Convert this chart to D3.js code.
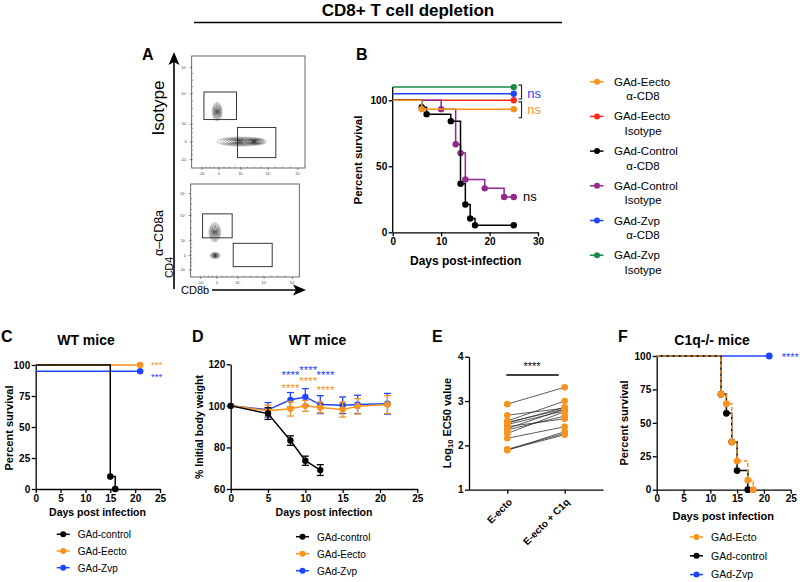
<!DOCTYPE html>
<html><head><meta charset="utf-8">
<script src="https://cdn.jsdelivr.net/npm/d3@7"></script>
<style>
body{margin:0;background:#fff;}
svg{font-family:"Liberation Sans",Arial,sans-serif;}
.axis path,.axis line{stroke:#000;stroke-width:1.3;}
.axis text{font-weight:bold;font-size:10px;fill:#000;}
</style></head>
<body>
<svg id="c" width="800" height="582"></svg>
<script>
// ---------------- DATA ----------------
const title = "CD8+ T cell depletion";
// Panel A (flow cytometry, log-units: -1=-10^3, 0=0, 1=10^3, 2=10^4, 3=10^5)
const flowTicks = [-1, 0, 1, 2, 3];
const flowTickLabels = ["-10³", "0", "10³", "10⁴", "10⁵"];
const flowRowLabels = ["Isotype", "α–CD8a"];
// populations: [xCenter, yCenter, xSpread, ySpread]
const flowPopsIso = [[-0.08, 1.4, 0.24, 0.3], [1.0, 0.0, 0.85, 0.25], [1.5, 0.0, 0.45, 0.2]];
const flowPopsDep = [[-0.1, 1.32, 0.3, 0.38], [-0.08, -0.03, 0.25, 0.2]];
// gates: [x0, x1, y0, y1]
const gatesIso = [[-0.86, 0.82, 1.14, 2.05], [0.87, 2.27, -0.92, 0.8]];
const gatesDep = [[-0.85, 0.75, 1.1, 2.05], [0.8, 2.3, -0.8, 0.8]];

// Panel B survival
const bSeries = ["GAd-Zvp Isotype", "GAd-Zvp α-CD8", "GAd-Eecto Isotype", "GAd-Control Isotype", "GAd-Control α-CD8", "GAd-Eecto α-CD8"];
const bColors = ["#1a8a47", "#1f45ff", "#ff2a1a", "#93278f", "#000000", "#f7931e"];
const bTimes = [[0, 25], [0, 25], [0, 25], [0, 10, 13, 14, 15, 19, 23, 25], [0, 6, 7, 12, 14, 15, 16, 17, 25], [0, 6, 25]];
const bSurv = [[110, 110], [105, 105], [100, 100], [100, 93.3, 66.7, 60, 40, 33.3, 26.7, 26.7], [100, 94.7, 89.5, 84.2, 36.8, 21.1, 10.5, 5.3, 5.3], [100, 93.3, 93.3]];
const bLegendLine1 = ["GAd-Eecto", "GAd-Eecto", "GAd-Control", "GAd-Control", "GAd-Zvp", "GAd-Zvp"];
const bLegendLine2 = ["α-CD8", "Isotype", "α-CD8", "Isotype", "α-CD8", "Isotype"];
const bLegendColors = ["#f7931e", "#ff2a1a", "#000000", "#93278f", "#1f45ff", "#1a8a47"];

// Panel C survival WT
const cSeries = ["GAd-Zvp", "GAd-Eecto", "GAd-control"];
const cColors = ["#1f45ff", "#f7931e", "#000000"];
const cTimes = [[0, 21], [0, 21], [0, 15, 16]];
const cSurv = [[95, 95], [100, 100], [100, 10, 0]];
const cLegend = ["GAd-control", "GAd-Eecto", "GAd-Zvp"];
const cLegendColors = ["#000000", "#f7931e", "#1f45ff"];

// Panel D body weight
const dDays = [0, 5, 8, 10, 12, 15, 17, 21];
const dControl = [100, 96.3, 83.3, 73.6, 69.1];
const dControlErr = [0, 2.8, 2.3, 2.2, 2.6];
const dEecto = [100, 97.7, 98.6, 100, 99.2, 98.2, 99.8, 100.6];
const dEectoErr = [0, 2.6, 3.5, 2.6, 2.6, 3.6, 3.7, 4.3];
const dZvp = [100, 98.1, 102.9, 104.3, 100.6, 100.3, 100.7, 101];
const dZvpErr = [0, 3.5, 3.5, 4.0, 4.3, 4.0, 4.4, 5.0];
const dStarsBlue = [[8.0, 116], [10.4, 118.5], [12.7, 116]];
const dStarsOrange = [[8.0, 110], [10.4, 113], [12.7, 109]];
const dLegend = ["GAd-control", "GAd-Eecto", "GAd-Zvp"];

// Panel E paired EC50
const eCategories = ["E-ecto", "E-ecto + C1q"];
const eBefore = [2.93, 2.68, 2.55, 2.52, 2.50, 2.47, 2.42, 2.38, 2.35, 2.27, 2.16, 1.91, 1.90, 1.89];
const eAfter = [3.31, 2.84, 3.00, 2.82, 2.86, 2.78, 2.60, 2.82, 2.66, 2.76, 2.42, 2.27, 2.24, 2.31];

// Panel F survival C1q-/-
const fSeries = ["GAd-Zvp", "GAd-control", "GAd-Ecto"];
const fColors = ["#1f45ff", "#000000", "#f7931e"];
const fTimes = [[0, 21], [0, 12, 13, 14, 15, 17], [0, 12, 13, 14, 15, 17, 18]];
const fSurv = [[100, 100], [100, 71.4, 57.1, 35.7, 14.3, 0], [100, 71.4, 64.3, 35.7, 21.4, 7.1, 0]];
const fLegend = ["GAd-Ecto", "GAd-control", "GAd-Zvp"];
const fLegendColors = ["#f7931e", "#000000", "#1f45ff"];

// ---------------- DRAW ----------------
const svg = d3.select("#c");
const F = '"Liberation Sans",Arial,sans-serif';

function txt(x, y, s, size, opts = {}) {
  const t = svg.append("text").attr("x", x).attr("y", y).text(s)
    .attr("font-size", size).attr("font-weight", opts.bold ? "bold" : "normal")
    .attr("fill", opts.fill || "#000").attr("text-anchor", opts.anchor || "start");
  if (opts.rotate) t.attr("transform", `rotate(-90,${x},${y})`);
  return t;
}

// title
txt(408, 15.5, title, 17, {bold: true, anchor: "middle"});
svg.append("line").attr("x1", 194).attr("x2", 562).attr("y1", 22.5).attr("y2", 22.5).attr("stroke", "#000").attr("stroke-width", 1.3);

// panel letters
[["A", 142, 60], ["B", 356, 60], ["C", 1, 342], ["D", 192, 342], ["E", 432, 342], ["F", 618, 342]]
  .forEach(d => txt(d[1], d[2], d[0], 16, {bold: true}));

// ---------- Panel A ----------
function flowPlot(box, pops, gates) {
  const [x0, x1, y0, y1] = box;
  const xf = [.087, .237, .43, .672, .933], yf = [.08, .236, .394, .667, .902];
  const xs = d3.scaleLinear().domain(flowTicks).range(xf.map(f => x0 + f * (x1 - x0)));
  const ys = d3.scaleLinear().domain(flowTicks).range(yf.map(f => y1 - f * (y1 - y0)));
  svg.append("rect").attr("x", x0).attr("y", y0).attr("width", x1 - x0).attr("height", y1 - y0)
    .attr("fill", "none").attr("stroke", "#444").attr("stroke-width", 0.8);
  const ga = svg.append("g").attr("transform", `translate(${x0},0)`)
    .call(d3.axisLeft(ys).tickValues(flowTicks).tickSize(2).tickFormat((d, i) => flowTickLabels[i]));
  ga.select(".domain").remove();
  ga.selectAll("line").attr("stroke", "#444").attr("stroke-width", 0.6);
  ga.selectAll("text").attr("font-size", 3.5).attr("fill", "#333").attr("font-family", F);
  const gb = svg.append("g").attr("transform", `translate(0,${y1})`)
    .call(d3.axisBottom(xs).tickValues(flowTicks).tickSize(2).tickFormat((d, i) => flowTickLabels[i]));
  gb.select(".domain").remove();
  gb.selectAll("line").attr("stroke", "#444").attr("stroke-width", 0.6);
  gb.selectAll("text").attr("font-size", 3.5).attr("fill", "#333").attr("font-family", F);
  // minor ticks
  const minor = d3.range(-1, 3, 0.25);
  svg.append("g").selectAll("line").data(minor).join("line")
    .attr("x1", d => xs(d)).attr("x2", d => xs(d)).attr("y1", y1).attr("y2", y1 - 1.5).attr("stroke", "#555").attr("stroke-width", 0.5);
  svg.append("g").selectAll("line").data(minor).join("line")
    .attr("y1", d => ys(d)).attr("y2", d => ys(d)).attr("x1", x0).attr("x2", x0 + 1.5).attr("stroke", "#555").attr("stroke-width", 0.5);
  // populations
  pops.forEach(p => {
    const n = 8;
    for (let k = 0; k < n; k++) {
      const f = 1 - k / n;
      const c = d3.interpolateRgb("#a8a8a8", "#111")(k / (n - 1));
      svg.append("ellipse").attr("cx", xs(p[0])).attr("cy", ys(p[1]))
        .attr("rx", Math.abs(xs(p[0] + p[2] * f) - xs(p[0])))
        .attr("ry", Math.abs(ys(p[1] + p[3] * f) - ys(p[1])))
        .attr("fill", "none").attr("stroke", c).attr("stroke-width", 0.7);
    }
  });
  gates.forEach(g => {
    svg.append("rect").attr("x", xs(g[0])).attr("y", ys(g[3]))
      .attr("width", xs(g[1]) - xs(g[0])).attr("height", ys(g[2]) - ys(g[3]))
      .attr("fill", "none").attr("stroke", "#222").attr("stroke-width", 0.9);
  });
}
flowPlot([191.7, 305, 56, 168], flowPopsIso, gatesIso);
flowPlot([190.7, 299.3, 184, 277], flowPopsDep, gatesDep);
// arrows
svg.append("line").attr("x1", 174).attr("x2", 174).attr("y1", 289).attr("y2", 62).attr("stroke", "#000").attr("stroke-width", 1.6);
svg.append("path").attr("d", "M174,52 L168.5,65 L174,62 L179.5,65 Z").attr("fill", "#000");
svg.append("line").attr("x1", 212).attr("x2", 296).attr("y1", 290).attr("y2", 290).attr("stroke", "#000").attr("stroke-width", 1.6);
svg.append("path").attr("d", "M306,290 L293,284.5 L296,290 L293,295.5 Z").attr("fill", "#000");
txt(164, 108, flowRowLabels[0], 17, {anchor: "middle", rotate: true});
txt(163, 233, flowRowLabels[1], 12.5, {anchor: "middle", rotate: true});
txt(172.5, 267.5, "CD4", 10.5, {anchor: "middle", rotate: true});
txt(181, 294, "CD8b", 11);

// ---------- generic helpers ----------
function axes(xs, ys, xTicks, yTicks, yAxisX, xAxisY) {
  const gx = svg.append("g").attr("class", "axis").attr("transform", `translate(0,${xAxisY})`)
    .call(d3.axisBottom(xs).tickValues(xTicks).tickSize(4).tickPadding(1.5).tickSizeOuter(0));
  const gy = svg.append("g").attr("class", "axis").attr("transform", `translate(${yAxisX},0)`)
    .call(d3.axisLeft(ys).tickValues(yTicks).tickSize(4).tickPadding(1.5).tickSizeOuter(0).tickFormat(d3.format("d")));
  return [gx, gy];
}
function survival(xs, ys, times, surv, color, opts = {}) {
  const pts = times.map((t, i) => [t, surv[i]]);
  const line = d3.line().x(d => xs(d[0])).y(d => ys(d[1])).curve(d3.curveStepAfter);
  const p = svg.append("path").attr("d", line(pts)).attr("fill", "none").attr("stroke", color).attr("stroke-width", opts.w || 1.5);
  if (opts.dash) p.attr("stroke-dasharray", opts.dash);
  svg.append("g").selectAll("circle").data(pts.slice(1)).join("circle")
    .attr("cx", d => xs(d[0])).attr("cy", d => ys(d[1])).attr("r", opts.r || 3.3).attr("fill", color);
}
function legend(x, y0, dy, labels, colors, size, dashIdx) {
  labels.forEach((l, i) => {
    const y = y0 + i * dy;
    const ln = svg.append("line").attr("x1", x).attr("x2", x + 13).attr("y1", y).attr("y2", y).attr("stroke", colors[i]).attr("stroke-width", 1.5);
    if (dashIdx === i) ln.attr("stroke-dasharray", "3,2");
    svg.append("circle").attr("cx", x + 6.5).attr("cy", y).attr("r", 3).attr("fill", colors[i]);
    txt(x + 21, y + 3.8, l, size);
  });
}

// ---------- Panel B ----------
{
  const xs = d3.scaleLinear().domain([0, 30]).range([392.7, 538]);
  const ys = d3.scaleLinear().domain([0, 100]).range([232.3, 100.3]);
  const [gx, gy] = axes(xs, ys, [0, 10, 20, 30], [0, 50, 100], 392.7, 232.3);
  gy.select(".domain").attr("d", `M0,${ys(0)}V${ys(110)}`);
  gx.selectAll("text").attr("font-size", 11);
  gy.selectAll("text").attr("font-size", 11);
  bSeries.forEach((s, i) => survival(xs, ys, bTimes[i], bSurv[i], bColors[i], {r: 3.2}));
  // brackets
  const br = (yA, yB) => {
    const xb = xs(26.6);
    svg.append("path").attr("d", `M${xb - 3},${ys(yA)}H${xb}V${ys(yB)}H${xb - 3}`).attr("fill", "none").attr("stroke", "#222").attr("stroke-width", 1.1);
  };
  br(111.5, 101);
  br(98.8, 86.8);
  txt(xs(27.8), ys(101.8), "ns", 13, {fill: "#1f45ff"});
  txt(xs(27.8), ys(89.5), "ns", 13, {fill: "#f7931e"});
  txt(xs(26.9), ys(24), "ns", 13);
  txt(465.7, 265, "Days post-infection", 12, {bold: true, anchor: "middle"});
  txt(362, 160, "Percent survival", 11.5, {bold: true, anchor: "middle", rotate: true});
  // legend
  bLegendLine1.forEach((l, i) => {
    const y = 81.7 + i * 34.7;
    svg.append("line").attr("x1", 590).attr("x2", 603.5).attr("y1", y).attr("y2", y).attr("stroke", bLegendColors[i]).attr("stroke-width", 1.5);
    svg.append("circle").attr("cx", 597).attr("cy", y).attr("r", 3).attr("fill", bLegendColors[i]);
    txt(614, y + 4, l, 11.5);
    txt(643, y + 18.5, bLegendLine2[i], 11.5, {anchor: "middle"});
  });
}

// ---------- Panel C ----------
{
  const xs = d3.scaleLinear().domain([0, 25]).range([35.7, 160]);
  const ys = d3.scaleLinear().domain([0, 100]).range([489, 365]);
  axes(xs, ys, [0, 5, 10, 15, 20, 25], [0, 25, 50, 75, 100], 35.7, 489);
  cSeries.forEach((s, i) => survival(xs, ys, cTimes[i], cSurv[i], cColors[i], {r: 3.3}));
  txt(151, ys(100) + 2.5, "***", 9.5, {fill: "#f7931e"});
  txt(151, ys(95) + 8.5, "***", 9.5, {fill: "#1f45ff"});
  txt(86, 345, "WT mice", 14, {bold: true, anchor: "middle"});
  txt(97.5, 516, "Days post infection", 10.5, {bold: true, anchor: "middle"});
  txt(13, 428, "Percent survival", 11, {bold: true, anchor: "middle", rotate: true});
  legend(56.7, 534.3, 16.7, cLegend, cLegendColors, 10);
}

// ---------- Panel D ----------
{
  const xs = d3.scaleLinear().domain([0, 25]).range([230.7, 417.3]);
  const ys = d3.scaleLinear().domain([60, 120]).range([489, 364.3]);
  axes(xs, ys, [0, 5, 10, 15, 20, 25], [60, 80, 100, 120], 230.7, 489);
  const series = [
    [dZvp, dZvpErr, "#1f45ff"],
    [dEecto, dEectoErr, "#f7931e"],
    [dControl, dControlErr, "#000000"]
  ];
  series.forEach(([vals, errs, col]) => {
    const pts = vals.map((v, i) => [dDays[i], v, errs[i]]);
    const g = svg.append("g");
    pts.forEach(p => {
      if (!p[2]) return;
      const x = xs(p[0]);
      g.append("line").attr("x1", x).attr("x2", x).attr("y1", ys(p[1] - p[2])).attr("y2", ys(p[1] + p[2])).attr("stroke", col).attr("stroke-width", 1.3);
      [p[1] - p[2], p[1] + p[2]].forEach(v => g.append("line").attr("x1", x - 3.5).attr("x2", x + 3.5).attr("y1", ys(v)).attr("y2", ys(v)).attr("stroke", col).attr("stroke-width", 1.3));
    });
    g.append("path").attr("d", d3.line().x(d => xs(d[0])).y(d => ys(d[1]))(pts)).attr("fill", "none").attr("stroke", col).attr("stroke-width", 1.5);
    g.selectAll("circle").data(pts).join("circle").attr("cx", d => xs(d[0])).attr("cy", d => ys(d[1])).attr("r", 3.2).attr("fill", col);
  });
  dStarsBlue.forEach(s => txt(xs(s[0]), ys(s[1]) + 6.5, "****", 11.5, {fill: "#1f45ff", anchor: "middle"}));
  dStarsOrange.forEach(s => txt(xs(s[0]), ys(s[1]) + 6.5, "****", 11.5, {fill: "#f7931e", anchor: "middle"}));
  txt(317.5, 345, "WT mice", 14, {bold: true, anchor: "middle"});
  txt(324, 516, "Days post infection", 10.5, {bold: true, anchor: "middle"});
  txt(203, 427, "% Initial body weight", 10.5, {bold: true, anchor: "middle", rotate: true});
  legend(296, 536.7, 17, dLegend, ["#000000", "#f7931e", "#1f45ff"], 10);
}

// ---------- Panel E ----------
{
  const xs = d3.scalePoint().domain(eCategories).range([469, 603]).padding(0.667);
  const ys = d3.scaleLinear().domain([1, 4]).range([489.7, 356.7]);
  const [gx, gy] = axes(xs, ys, eCategories, [1, 2, 3, 4], 469, 489.7);
  gy.selectAll("text").attr("font-size", 11);
  gx.selectAll("text").attr("y", 0).attr("dy", 0).attr("font-size", 10.5)
    .attr("transform", "translate(5,13) rotate(-45)").style("text-anchor", "end");
  const g = svg.append("g");
  eBefore.forEach((v, i) => g.append("line").attr("x1", xs(eCategories[0])).attr("x2", xs(eCategories[1]))
    .attr("y1", ys(v)).attr("y2", ys(eAfter[i])).attr("stroke", "#333").attr("stroke-width", 0.8));
  [eBefore, eAfter].forEach((arr, k) => g.append("g").selectAll("circle").data(arr).join("circle")
    .attr("cx", xs(eCategories[k])).attr("cy", d => ys(d)).attr("r", 3.3).attr("fill", "#f7931e"));
  svg.append("line").attr("x1", xs(eCategories[0]) - 1).attr("x2", xs(eCategories[1]) - 6).attr("y1", 375).attr("y2", 375).attr("stroke", "#000").attr("stroke-width", 1.6);
  txt(532, 370, "****", 11, {anchor: "middle"});
  const t = svg.append("text").attr("transform", "translate(451,423) rotate(-90)").attr("text-anchor", "middle")
    .attr("font-size", 11).attr("font-weight", "bold");
  t.append("tspan").text("Log");
  t.append("tspan").text("10").attr("font-size", 7.5).attr("baseline-shift", "-25%");
  t.append("tspan").text(" EC50 value");
}

// ---------- Panel F ----------
{
  const xs = d3.scaleLinear().domain([0, 25]).range([656.7, 790.7]);
  const ys = d3.scaleLinear().domain([0, 100]).range([489.7, 356]);
  const [gx, gy] = axes(xs, ys, [0, 5, 10, 15, 20, 25], [0, 25, 50, 75, 100], 656.7, 489.7);
  gx.selectAll("text").attr("font-size", 10.5);
  gy.selectAll("text").attr("font-size", 10.5);
  fSeries.forEach((s, i) => survival(xs, ys, fTimes[i], fSurv[i], fColors[i], {r: 3.4, dash: i === 2 ? "4,2" : null}));
  txt(781.7, ys(100) + 5, "****", 11, {fill: "#1f45ff"});
  txt(712, 345, "C1q-/- mice", 14, {bold: true, anchor: "middle"});
  txt(723.3, 520, "Days post infection", 11, {bold: true, anchor: "middle"});
  txt(628, 423, "Percent survival", 11, {bold: true, anchor: "middle", rotate: true});
  legend(690, 537, 18.8, fLegend, fLegendColors, 10.5, 0);
}
</script>
</body></html>
